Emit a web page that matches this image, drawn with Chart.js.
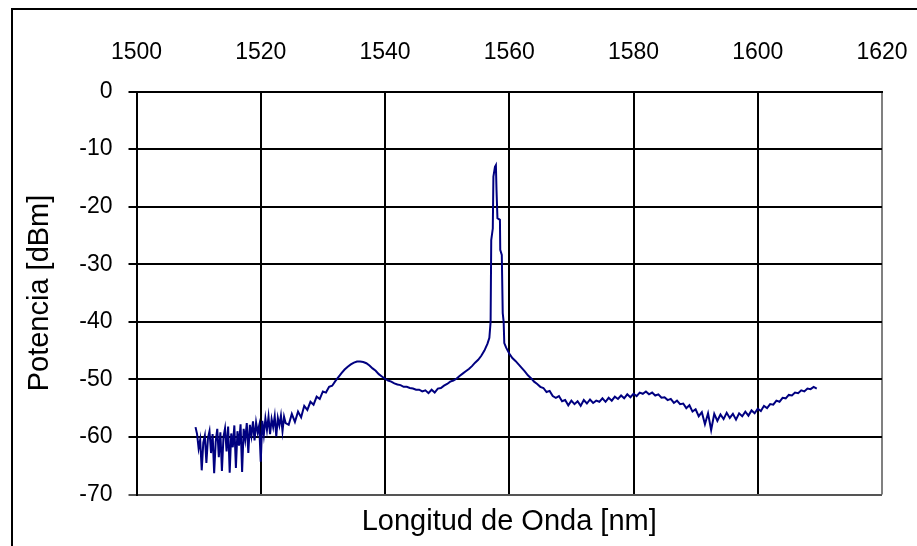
<!DOCTYPE html>
<html lang="es">
<head>
<meta charset="UTF-8">
<script src="https://cdn.jsdelivr.net/npm/chart.js@4.4.1/dist/chart.umd.min.js"></script>
<title>Espectro</title>
<style>
  html, body { margin: 0; padding: 0; background: #fff; }
</style>
</head>
<body>
<canvas id="myChart" width="917" height="546"></canvas>
<script>
// ticks
const xTicks = [1500, 1520, 1540, 1560, 1580, 1600, 1620];
const yTicks = [0, -10, -20, -30, -40, -50, -60, -70];

// left noisy part
const wlA = [1509.5,1509.75,1510,1510.25,1510.5,1510.75,1511,1511.25,1511.5,1511.75,
  1512,1512.25,1512.5,1512.75,1513,1513.25,1513.5,1513.75,1514,1514.25,
  1514.5,1514.75,1515,1515.25,1515.5,1515.75,1516,1516.25,1516.5,1516.75,
  1517,1517.25,1517.5,1517.75,1518,1518.25,1518.5,1518.75,1519,1519.25,
  1519.5,1519.75,1520,1520.25,1520.5,1520.75,1521,1521.25,1521.5,1521.75,
  1522,1522.25,1522.5,1522.75,1523,1523.25,1523.5,1523.75,1524];
const pA = [-58.3,-59.5,-62.0,-60.5,-65.8,-61.0,-59.8,-64.5,-60.2,-59.0,
  -62.8,-59.5,-66.3,-60.8,-58.6,-63.5,-59.2,-65.9,-60.0,-58.5,
  -62.5,-58.2,-66.2,-59.4,-61.8,-58.0,-65.4,-59.0,-61.5,-57.8,
  -66.1,-58.6,-60.5,-57.6,-62.8,-57.9,-59.8,-57.3,-60.6,-57.5,
  -59.2,-58.0,-64.3,-57.2,-59.6,-56.8,-58.8,-56.5,-59.5,-56.9,
  -58.3,-56.4,-59.9,-56.7,-58.0,-56.3,-59.0,-56.5,-57.6];

// bump around 1536 nm
const wlB = [1524.5,1525,1525.5,1526,1526.5,1527,1527.5,1528,1528.5,1529,
  1529.5,1530,1530.5,1531,1531.5,1532,1532.5,1533,1533.5,1534,
  1534.5,1535,1535.5,1536,1536.5,1537,1537.5,1538,1538.5,1539,
  1539.5,1540,1540.5,1541,1541.5,1542,1542.5,1543,1543.5,1544,
  1544.5,1545,1545.5,1546,1546.5,1547,1547.5,1548,1548.5,1549,
  1549.5,1550,1550.5,1551,1551.5,1552,1552.5,1553,1553.5,1554,
  1554.5,1555,1555.5,1556,1556.5];
const pB = [-57.9,-56.0,-57.4,-55.6,-56.6,-54.6,-55.3,-53.9,-54.4,-53.0,
  -53.4,-52.1,-52.3,-51.3,-51.1,-50.3,-49.6,-48.9,-48.3,-47.8,
  -47.4,-47.1,-46.9,-46.9,-47.0,-47.2,-47.6,-48.1,-48.5,-49.1,
  -49.5,-49.9,-50.2,-50.4,-50.7,-50.9,-51.0,-51.3,-51.3,-51.5,
  -51.6,-51.8,-51.8,-52.1,-51.9,-52.4,-51.8,-52.3,-51.6,-51.5,
  -51.1,-50.8,-50.4,-50.2,-49.9,-49.4,-49.0,-48.6,-48.2,-47.7,
  -47.1,-46.6,-45.9,-45.0,-43.8];

// laser peak
const wlC = [1556.8,1557.0,1557.1,1557.35,1557.45,1557.7,1557.85,1557.95,
  1558.1,1558.5,1558.55,1558.8,1558.95,1559.1,1559.2,1559.5];
const pC = [-42.8,-40.0,-25.8,-23.8,-14.8,-13.1,-12.8,-17.1,
  -22.0,-22.3,-27.5,-28.4,-38.5,-40.0,-43.7,-44.5];

// right part
const wlD = [1560,1560.5,1561,1561.5,1562,1562.5,1563,1563.5,1564,1564.5,
  1565,1565.5,1566,1566.5,1567,1567.5,1568,1568.5,1569,1569.5,
  1570,1570.5,1571,1571.5,1572,1572.5,1573,1573.5,1574,1574.5,
  1575,1575.5,1576,1576.5,1577,1577.5,1578,1578.5,1579,1579.5,
  1580,1580.5,1581,1581.5,1582,1582.5,1583,1583.5,1584,1584.5,
  1585,1585.5,1586,1586.5,1587,1587.5,1588,1588.5,1589,1589.5,
  1590,1590.5,1591,1591.5,1592,1592.5,1593,1593.5,1594,1594.5,
  1595,1595.5,1596,1596.5,1597,1597.5,1598,1598.5,1599,1599.5,
  1600,1600.5,1601,1601.5,1602,1602.5,1603,1603.5,1604,1604.5,
  1605,1605.5,1606,1606.5,1607,1607.5,1608,1608.5,1609,1609.5];
const pD = [-45.5,-46.3,-46.8,-47.4,-48.0,-48.6,-49.3,-49.8,-50.4,-50.8,
  -51.3,-51.5,-52.2,-52.0,-52.9,-53.2,-52.9,-53.8,-53.6,-54.5,
  -53.7,-54.3,-53.8,-54.6,-53.6,-54.2,-53.5,-54.1,-53.7,-53.9,
  -53.3,-53.9,-53.2,-53.7,-53.0,-53.4,-52.8,-53.3,-52.6,-53.1,
  -52.5,-52.9,-52.3,-52.5,-52.1,-52.6,-52.3,-52.8,-52.6,-53.2,
  -53.1,-53.6,-53.4,-54.1,-53.7,-54.3,-54.2,-55.0,-54.5,-55.6,
  -55.2,-56.4,-55.7,-57.8,-55.9,-58.8,-56.0,-57.2,-56.1,-56.9,
  -55.8,-56.7,-56.0,-57.0,-55.9,-56.4,-55.6,-56.3,-55.4,-55.9,
  -55.1,-55.5,-54.6,-55.0,-54.3,-54.4,-53.7,-53.9,-53.2,-53.3,
  -52.7,-52.8,-52.3,-52.4,-51.9,-52.1,-51.6,-51.7,-51.3,-51.6];

const wavelength = [...wlA, ...wlB, ...wlC, ...wlD];
const power = [...pA, ...pB, ...pC, ...pD];
const points = wavelength.map((w, i) => ({ x: w, y: power[i] }));

const FONT = "'Liberation Sans', Arial, sans-serif";

const framePlugin = {
  id: 'frame',
  beforeDraw(chart) {
    const c = chart.ctx;
    c.save();
    c.fillStyle = '#fff';
    c.fillRect(0, 0, chart.width, chart.height);
    c.restore();
  },
  afterDraw(chart) {
    const c = chart.ctx;
    c.save();
    c.strokeStyle = '#000';
    c.lineWidth = 2;
    c.beginPath();
    c.moveTo(12, chart.height + 2);
    c.lineTo(12, 9);
    c.lineTo(chart.width + 2, 9);
    c.stroke();
    c.restore();
  }
};

new Chart(document.getElementById('myChart'), {
  type: 'line',
  data: {
    datasets: [{
      data: points,
      borderColor: '#000080',
      borderWidth: 2,
      pointRadius: 0,
      tension: 0,
      fill: false
    }]
  },
  options: {
    responsive: false,
    animation: false,
    devicePixelRatio: 1,
    layout: { padding: { left: 0, right: 35, top: 0, bottom: 0 } },
    plugins: { legend: { display: false }, tooltip: { enabled: false } },
    scales: {
      x: {
        type: 'linear',
        position: 'top',
        min: 1500,
        max: 1620,
        afterBuildTicks: s => { s.ticks = xTicks.map(v => ({ value: v })); },
        ticks: {
          color: '#000',
          font: { family: FONT, size: 23 },
          padding: 25,
          maxRotation: 0,
          callback: v => String(v)
        },
        grid: {
          color: c => (c.tick && c.tick.value === 1620 ? '#808080' : '#000'),
          lineWidth: 2,
          drawTicks: false
        },
        border: { color: '#000', width: 2 },
        afterFit: s => { s.height = 91.5; s.paddingLeft = 0; s.paddingRight = 0; }
      },
      xb: {
        type: 'linear',
        position: 'bottom',
        min: 1500,
        max: 1620,
        ticks: { display: false },
        grid: { display: false, drawTicks: false },
        border: { display: false },
        title: {
          display: true,
          text: 'Longitud de Onda [nm]',
          color: '#000',
          font: { family: FONT, size: 29 },
          padding: { top: 0, bottom: 7 }
        },
        afterFit: s => { s.height = 51.5; s.paddingLeft = 0; s.paddingRight = 0; }
      },
      y: {
        min: -70,
        max: 0,
        afterBuildTicks: s => { s.ticks = yTicks.map(v => ({ value: v })); },
        ticks: { color: '#000', font: { family: FONT, size: 23 }, padding: 16 },
        grid: {
          color: c => (c.tick && c.tick.value === -70 ? '#555' : '#000'),
          lineWidth: 2,
          tickLength: 8
        },
        border: { color: '#000', width: 2 },
        title: {
          display: true,
          text: 'Potencia [dBm]',
          color: '#000',
          font: { family: FONT, size: 29 },
          padding: { top: 23, bottom: 0 }
        },
        afterFit: s => { s.width = 136.5; }
      }
    }
  },
  plugins: [framePlugin]
});
</script>
</body>
</html>
